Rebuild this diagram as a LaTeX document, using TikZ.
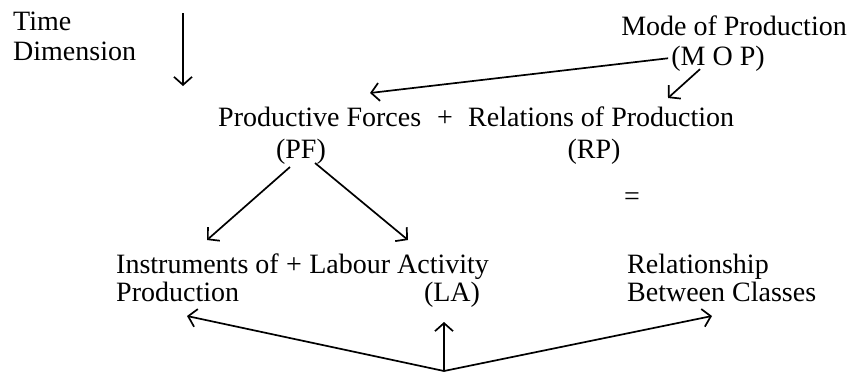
\documentclass[tikz,border=0pt]{standalone}
\usepackage{fontspec}
\setmainfont{Liberation Serif}
\usetikzlibrary{arrows.meta,positioning}

\tikzset{
  txt/.style={inner sep=0pt, font=\fontsize{28}{30}\selectfont},
  arr/.style={-{Straight Barb[length=8pt,width=18pt]}, line width=1.7pt},
}

\begin{document}
\begin{tikzpicture}[x=1pt,y=-1pt]
        \useasboundingbox (0,0) rectangle (854,373);
        % time axis
        \node[txt,anchor=base west] (time) at (13,30) {Time};
        \node[txt,anchor=base west] (dim) at (13,60) {Dimension};
        \coordinate (ttop) at (183,13);
        \coordinate (tbot) at (183,86);
        \draw[arr] (ttop) -- (tbot);

        % mode of production
        \node[txt,anchor=base east] (mode) at (847,35) {Mode of Production};
        \node[txt,anchor=base] (mop) at (718,65) {(M O P)};

        % PF + RP
        \node[txt,anchor=base west] (pf) at (218,126) {Productive Forces};
        \node[txt,anchor=base] (plusa) at (445,126) {+};
        \node[txt,anchor=base west] (rp) at (468,126) {Relations of Production};
        \node[txt,anchor=base] (pfab) at (301,158) {(PF)};
        \node[txt,anchor=base] (rpab) at (594,158) {(RP)};
        \coordinate (pftip) at (370,93);
        \coordinate (rptip) at (668,98);
        \draw[arr] ([xshift=-3pt]mop.west) -- (pftip);
        \draw[arr] ([xshift=-18pt,yshift=2pt]mop.south) -- (rptip);

        \node[txt,anchor=base] (eq) at (632,205) {=};

        % instruments + labour
        \node[txt,anchor=base west] (inst) at (116,273) {Instruments of};
        \node[txt,base right=7pt of inst] (plusb) {+};
        \node[txt,base right=7pt of plusb] (lab) {Labour Activity};
        \node[txt,anchor=base west] (prod) at (116,301) {Production};
        \node[txt,anchor=base] (laab) at (452,301) {(LA)};
        \node[txt,anchor=base west] (rel) at (627,273) {Relationship};
        \node[txt,anchor=base west] (betw) at (627,301) {Between Classes};
        \coordinate (pfl) at (290,167);
        \coordinate (pfr) at (315,163);
        \coordinate (insttip) at (207,240);
        \coordinate (labtip) at (408,240);
        \draw[arr] (pfl) -- (insttip);
        \draw[arr] (pfr) -- (labtip);

        % bottom fan
        \coordinate (src) at (444,371);
        \coordinate (prodtip) at (187,316);
        \coordinate (latip) at (444,322);
        \coordinate (reltip) at (712,316);
        \draw[arr] (src) -- (prodtip);
        \draw[arr] (src) -- (latip);
        \draw[arr] (src) -- (reltip);
      \end{tikzpicture}
\end{document}
